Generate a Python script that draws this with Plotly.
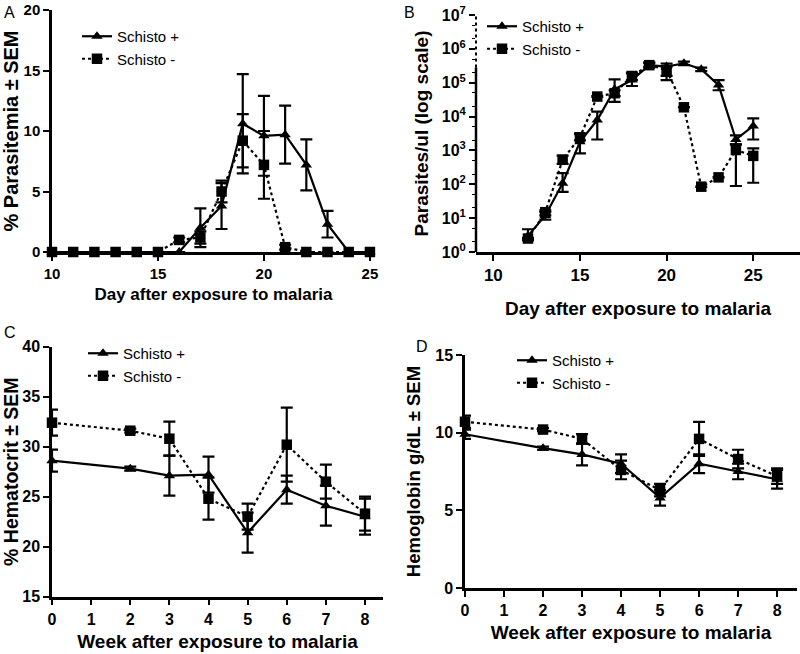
import plotly.graph_objects as go

# ---------------- data ----------------
days_a = [10, 11, 12, 13, 14, 15, 16, 17, 18, 19, 20, 21, 22, 23, 24, 25]
plus_a = [0, 0, 0, 0, 0, 0, 0, 2.0, 3.8, 10.6, 9.6, 9.7, 7.2, 2.3, 0, 0]
plus_a_err = [0, 0, 0, 0, 0, 0, 0, 1.6, 1.9, 4.1, 3.3, 2.4, 2.1, 1.1, 0, 0]
minus_a = [0, 0, 0, 0, 0, 0, 1.0, 1.2, 5.0, 9.2, 7.2, 0.4, 0, 0, 0, 0]
minus_a_err = [0, 0, 0, 0, 0, 0, 0.2, 0.5, 0.9, 2.2, 2.8, 0.2, 0, 0, 0, 0]

days_b = [12, 13, 14, 15, 16, 17, 18, 19, 20, 21, 22, 23, 24, 25]
plus_b = [3, 12, 107, 1800, 7900, 64000, 120000, 330000, 300000, 375000, 250000, 85000, 2100, 5300]
plus_b_hi = [4.7, 15, 214, 3200, 14000, 126000, 190000, 400000, 370000, 420000, 280000, 120000, 2800, 8900]
plus_b_lo = [2.2, 9, 60, 820, 2100, 27000, 80000, 280000, 120000, 330000, 220000, 60000, 1500, 2100]
minus_b = [2.5, 15, 530, 2450, 39000, 49000, 158000, 330000, 240000, 18800, 85, 160, 1030, 690]
minus_b_hi = [2.6, 17, 700, 3000, 40000, 60000, 200000, 380000, 300000, 19000, 86, 162, 1500, 1150]
minus_b_lo = [2.4, 12, 400, 2000, 38000, 40000, 120000, 300000, 160000, 18600, 84, 158, 89, 111]

weeks = [0, 2, 3, 4, 5, 6, 7, 8]
plus_c = [28.6, 27.8, 27.1, 27.2, 21.4, 25.7, 24.1, 23.0]
plus_c_err = [1.1, 0.2, 2.0, 1.8, 2.0, 1.4, 2.0, 1.8]
minus_c = [32.4, 31.6, 30.8, 24.8, 23.0, 30.2, 26.5, 23.3]
minus_c_err = [1.3, 0.2, 1.7, 2.1, 1.3, 3.7, 1.7, 1.7]

plus_d = [9.9, 9.0, 8.6, 8.0, 5.8, 8.0, 7.5, 7.0]
plus_d_err = [0.3, 0.1, 0.7, 0.6, 0.5, 0.6, 0.5, 0.6]
minus_d = [10.7, 10.2, 9.6, 7.6, 6.3, 9.6, 8.3, 7.2]
minus_d_err = [0.4, 0.1, 0.3, 0.6, 0.4, 1.1, 0.6, 0.5]

log_ticks = [1, 10, 100, 1000, 10000, 100000, 1000000, 10000000]
log_tick_text = ["10<sup>%d</sup>" % i for i in range(8)]

# ---------------- figure ----------------
W, H = 800, 654
FONT = "Liberation Sans, Arial, sans-serif"
fig = go.Figure()


def add_pair(xs, yp, ep_hi, ep_lo, ym, em_hi, em_lo, xa, ya, leg):
    fig.add_trace(go.Scatter(
        x=xs, y=yp, mode="lines+markers", name="Schisto +",
        line=dict(color="black", width=2.2),
        marker=dict(symbol="triangle-up", size=10, color="black"),
        error_y=dict(type="data", symmetric=False, array=ep_hi, arrayminus=ep_lo,
                     color="black", thickness=2.2, width=6),
        xaxis=xa, yaxis=ya, legend=leg, legendgroup=leg + "p", cliponaxis=False))
    fig.add_trace(go.Scatter(
        x=xs, y=ym, mode="lines+markers", name="Schisto -",
        line=dict(color="black", width=2.2, dash="dot"),
        marker=dict(symbol="square", size=10.5, color="black"),
        error_y=dict(type="data", symmetric=False, array=em_hi, arrayminus=em_lo,
                     color="black", thickness=2.2, width=6),
        xaxis=xa, yaxis=ya, legend=leg, legendgroup=leg + "m", cliponaxis=False))


add_pair(days_a, plus_a, plus_a_err, plus_a_err, minus_a, minus_a_err, minus_a_err, "x", "y", "legend")
add_pair(days_b, plus_b,
         [h - v for h, v in zip(plus_b_hi, plus_b)], [v - l for v, l in zip(plus_b, plus_b_lo)],
         minus_b,
         [h - v for h, v in zip(minus_b_hi, minus_b)], [v - l for v, l in zip(minus_b, minus_b_lo)],
         "x2", "y2", "legend2")
add_pair(weeks, plus_c, plus_c_err, plus_c_err, minus_c, minus_c_err, minus_c_err, "x3", "y3", "legend3")
add_pair(weeks, plus_d, plus_d_err, plus_d_err, minus_d, minus_d_err, minus_d_err, "x4", "y4", "legend4")


def px_x(p):
    return p / W


def px_y(p):
    return 1 - p / H


def ax(domain, rng, tickvals, tsize, title, tfsize, standoff, anchor, **kw):
    d = dict(domain=domain, range=rng, tickvals=tickvals, showline=True, linewidth=2.5,
             linecolor="black", ticks="outside", tickwidth=2, ticklen=6, tickcolor="black",
             showgrid=False, zeroline=False, anchor=anchor, automargin=False,
             tickfont=dict(family=FONT, size=tsize, color="black", weight="bold"),
             title=dict(text=title, standoff=standoff,
                        font=dict(family=FONT, size=tfsize, color="black", weight="bold")))
    d.update(kw)
    return d


layout = dict(
    width=W, height=H, margin=dict(l=0, r=0, t=0, b=0),
    plot_bgcolor="white", paper_bgcolor="white", showlegend=True,
    # panel A
    xaxis=ax([px_x(52), px_x(375)], [10, 25.24], [10, 15, 20, 25], 15,
             "Day after exposure to malaria", 17, 8, "y"),
    yaxis=ax([px_y(252), px_y(10)], [0, 20], [0, 5, 10, 15, 20], 15,
             "% Parasitemia ± SEM", 20, 8, "x"),
    # panel B
    xaxis2=ax([px_x(476), 1.0], [9, 27.7], [10, 15, 20, 25], 17,
              "Day after exposure to malaria", 19, 18, "y2"),
    yaxis2=ax([px_y(252), px_y(15)], [0, 7], log_ticks, 16,
              "Parasites/ul (log scale)", 19, 8, "x2", type="log",
              ticktext=log_tick_text, showline=False,
              minor=dict(ticks="outside", ticklen=3, tickwidth=1, tickcolor="black", showgrid=False)),
    # panel C
    xaxis3=ax([px_x(52), px_x(383)], [0, 8.46], list(range(9)), 16,
              "Week after exposure to malaria", 19, 9, "y3"),
    yaxis3=ax([px_y(596.7), px_y(346.7)], [15, 40], [15, 20, 25, 30, 35, 40], 16,
              "% Hematocrit ± SEM", 19.5, 8, "x3"),
    # panel D
    xaxis4=ax([px_x(465), px_x(797)], [0, 8.51], list(range(9)), 16,
              "Week after exposure to malaria", 19, 8, "y4"),
    yaxis4=ax([px_y(588), px_y(355)], [0, 15], [0, 5, 10, 15], 16,
              "Hemoglobin g/dL ± SEM", 18.5, 10, "x4"),
)

legend_font = dict(family=FONT, size=15, color="black")
for key, lx, ly in [("legend", 77, 20), ("legend2", 482, 10), ("legend3", 83, 337), ("legend4", 512, 344)]:
    layout[key] = dict(x=px_x(lx), y=px_y(ly), xanchor="left", yanchor="top",
                       bgcolor="rgba(0,0,0,0)", font=legend_font, itemwidth=30,
                       tracegroupgap=7, traceorder="normal")

fig.update_layout(**layout)

# broken axis for panel B (solid lower part, dotted upper part)
brk = 5.45 / 7
fig.add_shape(type="line", xref="x2 domain", yref="y2 domain", x0=0, x1=0, y0=0, y1=brk,
              line=dict(color="black", width=2.5))
fig.add_shape(type="line", xref="x2 domain", yref="y2 domain", x0=0, x1=0, y0=brk, y1=1,
              line=dict(color="black", width=2, dash="dot"))

# panel letters
for letter, lx, ly in [("A", 2, 2), ("B", 402, 2), ("C", 2, 322), ("D", 414, 336)]:
    fig.add_annotation(text=letter, x=px_x(lx), y=px_y(ly), xref="paper", yref="paper",
                       xanchor="left", yanchor="top", showarrow=False,
                       font=dict(family=FONT, size=16, color="black"))

fig.write_html("out.html", config={"displayModeBar": False},
               post_script="document.body.style.margin='0';")
